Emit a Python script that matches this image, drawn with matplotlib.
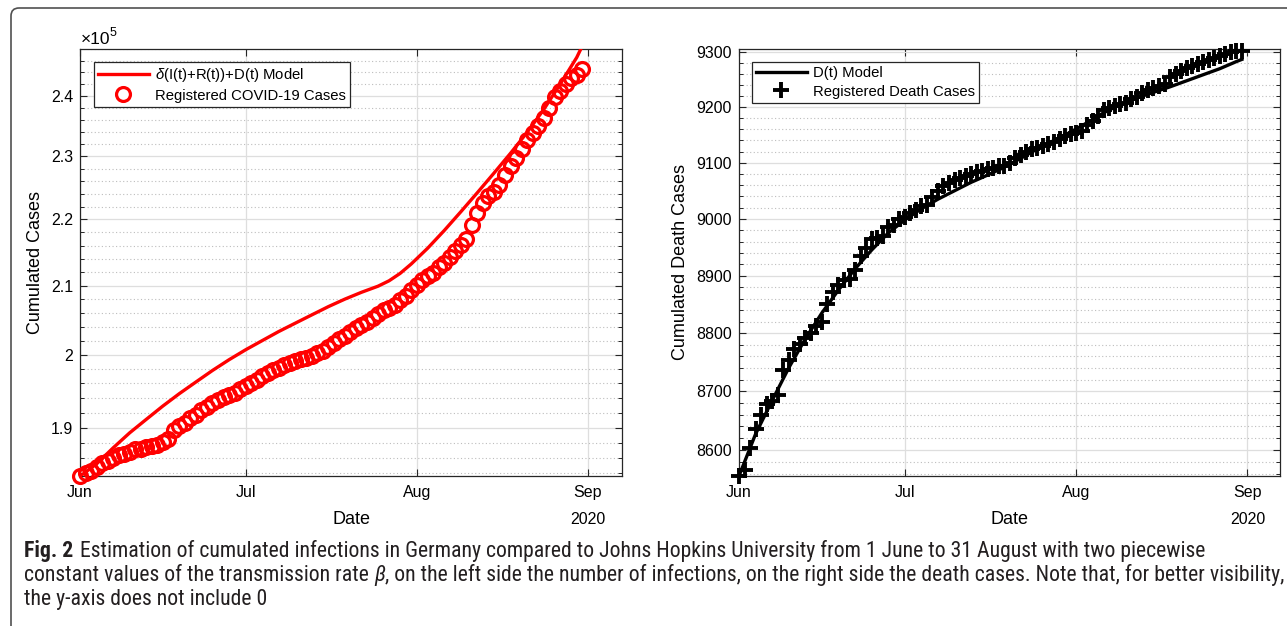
import numpy as np
import pandas as pd
import matplotlib
matplotlib.use("Agg")
import matplotlib.pyplot as plt
from matplotlib.ticker import FixedLocator, FixedFormatter, NullFormatter
from matplotlib.path import Path
from matplotlib.patches import PathPatch
from matplotlib.lines import Line2D
from matplotlib import font_manager

# ---------------------------------------------------------------- data
dates = pd.date_range("2020-06-01", "2020-08-31", freq="D")

# registered cumulative COVID-19 cases in Germany (thousands)
cases_k = [
    183.6, 184.0, 184.3, 184.8, 185.3, 185.6, 186.0, 186.4, 186.5, 186.7,
    187.1, 187.2, 187.4, 187.6, 187.7, 188.1, 188.5, 189.7, 190.2, 190.6,
    191.3, 191.7, 192.4, 192.8, 193.3, 193.7, 194.1, 194.4, 194.7, 195.3,
    195.7, 196.1, 196.5, 197.0, 197.4, 197.9, 198.2, 198.5, 198.8, 199.1,
    199.4, 199.6, 199.8, 200.2, 200.6, 201.1, 201.6, 202.2, 202.7, 203.3,
    203.8, 204.2, 204.7, 205.3, 205.9, 206.4, 206.7, 207.1, 207.8, 208.5,
    209.4, 210.1, 210.8, 211.4, 211.9, 212.8, 213.4, 214.2, 215.1, 216.1,
    217.0, 219.2, 221.0, 222.6, 223.6, 224.3, 225.4, 227.0, 228.4, 229.8,
    231.2, 232.6, 233.8, 235.0, 236.3, 238.0, 239.8, 240.8, 242.0, 243.1,
    243.6, 244.6,
]

# model delta(I+R)+D, days after 1 June (thousands)
model_days = [0, 3, 6, 9, 12, 15, 18, 21, 24, 27, 30, 33, 36, 39, 42, 45,
              48, 51, 54, 56, 58, 60, 63, 66, 69, 72, 75, 78, 81, 84, 87, 90, 91]
model_cases_k = [183.6, 185.2, 187.3, 189.3, 191.1, 192.9, 194.6, 196.2,
                 197.8, 199.3, 200.7, 202.0, 203.3, 204.5, 205.7, 206.9,
                 208.0, 209.0, 209.9, 210.7, 211.8, 213.2, 215.6, 218.3,
                 221.2, 224.2, 227.3, 230.5, 233.9, 237.7, 242.0, 246.6, 248.6]

# registered cumulative deaths
deaths = [
    8556, 8566, 8604, 8636, 8659, 8678, 8684, 8694, 8737, 8754,
    8772, 8781, 8791, 8800, 8812, 8820, 8851, 8872, 8883, 8893,
    8895, 8910, 8935, 8948, 8965, 8967, 8970, 8985, 8990, 9000,
    9004, 9010, 9016, 9022, 9024, 9038, 9050, 9058, 9064, 9070,
    9073, 9076, 9080, 9084, 9086, 9089, 9091, 9094, 9095, 9100,
    9109, 9114, 9120, 9124, 9127, 9130, 9133, 9138, 9143, 9148,
    9151, 9154, 9157, 9168, 9175, 9184, 9195, 9199, 9202, 9206,
    9208, 9214, 9218, 9225, 9232, 9235, 9239, 9243, 9254, 9260,
    9265, 9272, 9275, 9279, 9283, 9286, 9290, 9293, 9296, 9300,
    9302, 9303,
]

# model D(t), days after 1 June
model_death_days = [0, 3, 6, 9, 12, 15, 18, 21, 24, 27, 30, 33, 36, 39, 42,
                    45, 48, 51, 54, 57, 60, 63, 66, 69, 72, 75, 78, 81, 84,
                    87, 90, 91]
model_deaths = [8556, 8627, 8684, 8740, 8790, 8835, 8875, 8912, 8945, 8975,
                8998, 9018, 9035, 9050, 9065, 9078, 9092, 9108, 9125, 9140,
                9155, 9172, 9190, 9205, 9217, 9227, 9237, 9248, 9259, 9270,
                9283, 9287]

case_ticks = [1.9e5, 2.0e5, 2.1e5, 2.2e5, 2.3e5, 2.4e5]
case_tick_labels = ["1.9", "2", "2.1", "2.2", "2.3", "2.4"]
death_ticks = [8600, 8700, 8800, 8900, 9000, 9100, 9200, 9300]
death_tick_labels = [str(v) for v in death_ticks]
month_ticks = pd.to_datetime(["2020-06-01", "2020-07-01", "2020-08-01", "2020-09-01"])
month_labels = ["Jun", "Jul", "Aug", "Sep"]

caption_lines = [
    ["Estimation of cumulated infections in Germany compared to Johns Hopkins "
     "University from 1 June to 31 August with two piecewise"],
    ["constant values of the transmission rate", " ", "\u03b2",
     ", on the left side the number of infections, on the right side the "
     "death cases. Note that, for better visibility,"],
    ["the y-axis does not include 0"],
]

# ---------------------------------------------------------------- style
W, H, DPI = 1287, 626, 100
plt.rcParams["font.family"] = ["Liberation Sans", "DejaVu Sans"]
plt.rcParams["mathtext.fontset"] = "custom"
plt.rcParams["mathtext.it"] = "Liberation Sans:italic"
plt.rcParams["mathtext.rm"] = "Liberation Sans"

AX_COLOR = "#262626"
start = dates[0]

fig = plt.figure(figsize=(W / DPI, H / DPI), dpi=DPI)
fig.patch.set_facecolor("white")


def px_box(l, r, t, b):
    return [l / W, 1 - b / H, (r - l) / W, (b - t) / H]


ax1 = fig.add_axes(px_box(80, 622, 49, 476))
ax2 = fig.add_axes(px_box(739, 1280, 49, 476))


def style_axes(ax, xmax_days, ylim, majors, major_labels, minors):
    ax.set_yscale("log")
    ax.set_ylim(*ylim)
    ax.set_xlim(start, start + pd.Timedelta(days=xmax_days))
    ax.yaxis.set_major_locator(FixedLocator(majors))
    ax.yaxis.set_major_formatter(FixedFormatter(major_labels))
    ax.yaxis.set_minor_locator(FixedLocator(minors))
    ax.yaxis.set_minor_formatter(NullFormatter())
    ax.xaxis.set_major_locator(FixedLocator(matplotlib.dates.date2num(month_ticks)))
    ax.xaxis.set_major_formatter(FixedFormatter(month_labels))
    ax.xaxis.set_minor_locator(FixedLocator([]))
    ax.set_axisbelow(True)
    ax.grid(True, which="major", color="#dedede", lw=0.9, ls="-")
    ax.grid(True, which="minor", axis="y", color="#bdbdbd", lw=0.8, ls=(0, (1, 2.2)))
    for sp in ax.spines.values():
        sp.set_color(AX_COLOR)
        sp.set_linewidth(0.9)
    ax.tick_params(axis="both", which="both", direction="in", top=True,
                   right=True, color=AX_COLOR, labelcolor="black")
    ax.tick_params(axis="both", which="major", length=5, width=0.8, labelsize=11.5)
    ax.tick_params(axis="y", which="major", pad=5)
    ax.tick_params(axis="x", which="major", pad=6.5)
    ax.tick_params(axis="y", which="minor", length=3, width=0.7)
    ax.set_xlabel("Date", fontsize=13)
    ax.xaxis.set_label_coords(0.5, -0.102)
    ax.xaxis.label.set_verticalalignment("center")
    ax.text(matplotlib.dates.date2num(month_ticks[-1]), -0.102, "2020",
            transform=ax.get_xaxis_transform(), ha="center", va="center",
            fontsize=11.5)


case_minors = [v * 1e3 for v in range(184, 250, 2) if v % 10 != 0]
death_minors = [v for v in range(8560, 9320, 20) if v % 100 != 0]

style_axes(ax1, 98.2, (183630, 248070), case_ticks, case_tick_labels, case_minors)
style_axes(ax2, 97.9, (8556, 9306), death_ticks, death_tick_labels, death_minors)

# ---------------------------------------------------------------- left panel
RED = "#ff0000"
CIRCLE = dict(ls="none", marker="o", ms=10, mfc="none", mec=RED, mew=2.3)
model_dates = start + pd.to_timedelta(model_days, unit="D")
cases = np.array(cases_k) * 1e3
model_cases = np.array(model_cases_k) * 1e3

ax1.plot(model_dates, model_cases, color=RED, lw=2.4, zorder=3)
ax1.plot(dates, cases, clip_on=False, zorder=4, **CIRCLE)
ax1.set_ylabel("Cumulated Cases", fontsize=13)
ax1.yaxis.set_label_coords(-0.083, 0.5)
ax1.yaxis.label.set_verticalalignment("center")

fig.text(81 / W, 1 - 40 / H, "\u00d710", fontsize=12.5, va="center", ha="left")
fig.text(110 / W, 1 - 33 / H, "5", fontsize=9, va="center", ha="left")

h1 = [Line2D([], [], color=RED, lw=2.4), Line2D([], [], **CIRCLE)]
leg1 = ax1.legend(h1, [r"$\it{\delta}$(I(t)+R(t))+D(t) Model", "Registered COVID-19 Cases"],
                  loc="upper left", bbox_to_anchor=((94 - 80) / 542, (476 - 62) / 427),
                  borderaxespad=0, fontsize=10.7, handlelength=3.4, handletextpad=0.4,
                  labelspacing=0.3, borderpad=0.28, fancybox=False, framealpha=1,
                  edgecolor=AX_COLOR, numpoints=1)
leg1.get_frame().set_linewidth(0.9)

# ---------------------------------------------------------------- right panel
PLUS = dict(ls="none", marker="+", ms=12, mec="black", mew=2.8)
model_death_dates = start + pd.to_timedelta(model_death_days, unit="D")
ax2.plot(model_death_dates, model_deaths, color="black", lw=2.4, zorder=3)
ax2.plot(dates, deaths, clip_on=False, zorder=4, **PLUS)
ax2.set_ylabel("Cumulated Death Cases", fontsize=13)
ax2.yaxis.set_label_coords(-0.109, 0.5)
ax2.yaxis.label.set_verticalalignment("center")

h2 = [Line2D([], [], color="black", lw=2.4), Line2D([], [], **PLUS)]
leg2 = ax2.legend(h2, ["D(t) Model", "Registered Death Cases"],
                  loc="upper left", bbox_to_anchor=((752 - 739) / 541, (476 - 62) / 427),
                  borderaxespad=0, fontsize=10.7, handlelength=3.4, handletextpad=0.4,
                  labelspacing=0.3, borderpad=0.28, fancybox=False, framealpha=1,
                  edgecolor=AX_COLOR, numpoints=1)
leg2.get_frame().set_linewidth(0.9)

# ---------------------------------------------------------------- frame
r = 8
verts = [(11, H + 40), (11, 8 + r), (11, 8), (11 + r, 8), (W + 40, 8)]
verts = [(x / DPI, (H - y) / DPI) for x, y in verts]
codes = [Path.MOVETO, Path.LINETO, Path.CURVE3, Path.CURVE3, Path.LINETO]
fig.add_artist(PathPatch(Path(verts, codes), transform=fig.dpi_scale_trans,
                         fill=False, edgecolor="#505050", lw=1.2, clip_on=False))

# ---------------------------------------------------------------- caption
def pick_family():
    names = {f.name for f in font_manager.fontManager.ttflist}
    for fam in ["Liberation Sans Narrow", "Roboto Condensed", "Open Sans Condensed",
                "Noto Sans Condensed", "Open Sans", "Liberation Sans"]:
        if fam in names:
            return fam
    return "DejaVu Sans"


cap_family = pick_family()
cap_color = "#231f20"
renderer = fig.canvas.get_renderer()


def draw_pieces(x_px, y_px, pieces, size):
    """Draw a caption line piece by piece; return the created texts and end x."""
    x = x_px
    made = []
    for s in pieces:
        kw = {"style": "italic"} if s == "\u03b2" else {}
        if s == " ":
            a = fig.text(0, 0, "x x", fontsize=size, family=cap_family)
            b = fig.text(0, 0, "xx", fontsize=size, family=cap_family)
            x += a.get_window_extent(renderer).width - b.get_window_extent(renderer).width
            a.remove()
            b.remove()
            continue
        t = fig.text(x / W, 1 - y_px / H, s, fontsize=size, family=cap_family,
                     color=cap_color, va="baseline", ha="left", **kw)
        made.append(t)
        x = t.get_window_extent(renderer).x1
    return made, x


# size the caption so that its widest line spans the text block
cap_size = 12.0
for _ in range(3):
    trial, end = draw_pieces(24, 581, caption_lines[1], cap_size)
    for t in trial:
        t.remove()
    cap_size *= (1279 - 24) / (end - 24)

fig_t = fig.text(24 / W, 1 - 557 / H, "Fig. 2", fontsize=cap_size, family=cap_family,
                 weight="bold", color=cap_color, va="baseline", ha="left")
bold_end = fig_t.get_window_extent(renderer).x1
draw_pieces(bold_end + 7, 557, caption_lines[0], cap_size)
draw_pieces(24, 581, caption_lines[1], cap_size)
draw_pieces(24, 605, caption_lines[2], cap_size)

fig.savefig("out.png", dpi=DPI, facecolor="white")
